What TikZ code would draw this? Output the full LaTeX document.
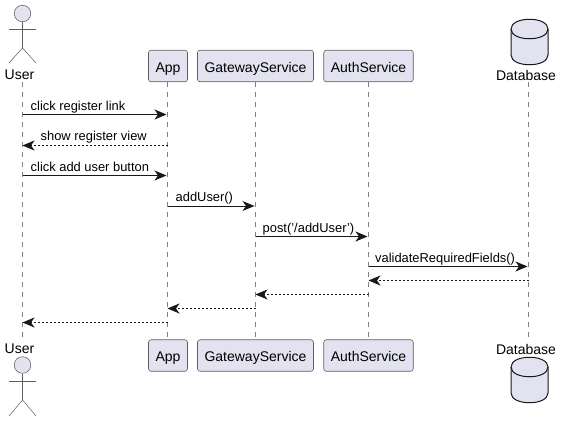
\documentclass[tikz,border=0pt]{standalone}
\usepackage{fontspec}
\setmainfont{Liberation Sans}
\usetikzlibrary{arrows.meta}
\definecolor{seqfill}{HTML}{E2E2F0}
\definecolor{seqline}{HTML}{181818}
\tikzset{
    partbox/.style={draw=seqline!70, line width=.6pt, fill=seqfill, rounded corners=2.5pt,
    	inner xsep=7pt, inner ysep=0pt, minimum height=31.5pt, text height=12pt, text depth=0pt,
    	font=\fontsize{14}{16}\selectfont},
    partname/.style={inner sep=0pt, font=\fontsize{14}{16}\selectfont},
    msgtext/.style={inner sep=0pt, anchor=base west, font=\fontsize{12.9}{15}\selectfont}
}
\tikzset{
    lifeline/.style={draw=seqline!55, line width=.5pt, dash pattern=on 5pt off 5pt},
    stick/.style={draw=seqline!70, line width=.5pt},
    dbline/.style={draw=seqline, line width=1pt, fill=seqfill},
    callmsg/.style={draw=seqline, line width=1pt, shorten >=1pt,
    	-{Stealth[length=12pt, width=10pt, inset=3.5pt]}},
    backmsg/.style={callmsg, shorten >=0pt, line width=.8pt, dash pattern=on 2pt off 2pt}
}

\begin{document}
\begin{tikzpicture}[x=1pt, y=-1pt]
  \useasboundingbox (0,0) rectangle (563,421);

  % participants, top row
  \node (user1) [partname] at (19.5, 75) {User};
  \node (app1) [partbox] at (168, 66) {App};
  \node (gate1) [partbox] at (255.5, 66) {GatewayService};
  \node (auth1) [partbox] at (368.5, 66) {AuthService};
  \node (db1) [partname] at (526, 75) {Database};

  % participants, bottom row
  \node (user2) [partname] at (19.5, 349) {User};
  \node (app2) [partbox] at (168, 355.5) {App};
  \node (gate2) [partbox] at (255.5, 355.5) {GatewayService};
  \node (auth2) [partbox] at (368.5, 355.5) {AuthService};
  \node (db2) [partname] at (526, 349) {Database};

  % lifelines
  \coordinate (lu1) at (22.5, 82); \coordinate (lu2) at (22.5, 339);
  \coordinate (la1) at (167.5, 82); \coordinate (la2) at (167.5, 339);
  \coordinate (lg1) at (255.5, 82); \coordinate (lg2) at (255.5, 339);
  \coordinate (ls1) at (368.5, 82); \coordinate (ls2) at (368.5, 339);
  \coordinate (ld1) at (528.5, 82); \coordinate (ld2) at (528.5, 339);
  \draw [lifeline] (lu1) -- (lu2);
  \draw [lifeline] (la1) -- (la2);
  \draw [lifeline] (lg1) -- (lg2);
  \draw [lifeline] (ls1) -- (ls2);
  \draw [lifeline] (ld1) -- (ld2);

  % actor, top
  \draw [stick, fill=seqfill] (22.5, 13.5) circle (8.3);
  \draw [stick] (22.5, 22) -- (22.5, 48);
  \draw [stick] (9, 29) -- (36, 29);
  \draw [stick] (9, 63) -- (22.5, 48) -- (36, 63);

  % actor, bottom
  \draw [stick, fill=seqfill] (22.5, 365) circle (8.3);
  \draw [stick] (22.5, 373.5) -- (22.5, 400);
  \draw [stick] (9, 381) -- (36, 381);
  \draw [stick] (9, 416) -- (22.5, 400) -- (36, 416);

  % database, top
  \draw [dbline] (511, 29) .. controls (511, 16) and (548, 16) .. (548, 29)
    -- (548, 55) .. controls (548, 68) and (511, 68) .. (511, 55) -- cycle;
  \draw [dbline, fill=none] (511, 29) .. controls (511, 42) and (548, 42) .. (548, 29);

  % database, bottom
  \draw [dbline] (511, 367) .. controls (511, 354) and (548, 354) .. (548, 367)
    -- (548, 393) .. controls (548, 406) and (511, 406) .. (511, 393) -- cycle;
  \draw [dbline, fill=none] (511, 367) .. controls (511, 380) and (548, 380) .. (548, 367);

  % message ends
  \coordinate (u1) at (22.5, 114.5); \coordinate (a1) at (167.5, 114.5);
  \coordinate (a2) at (167.5, 145.5); \coordinate (u2) at (22.5, 145.5);
  \coordinate (u3) at (22.5, 175.5); \coordinate (a3) at (167.5, 175.5);
  \coordinate (a4) at (167.5, 206); \coordinate (g4) at (255.5, 206);
  \coordinate (g5) at (255.5, 236.5); \coordinate (s5) at (368.5, 236.5);
  \coordinate (s6) at (368.5, 266.5); \coordinate (d6) at (528.5, 266.5);
  \coordinate (d7) at (528.5, 280.5); \coordinate (s7) at (368.5, 280.5);
  \coordinate (s8) at (368.5, 294.5); \coordinate (g8) at (255.5, 294.5);
  \coordinate (g9) at (255.5, 308.5); \coordinate (a9) at (167.5, 308.5);
  \coordinate (a10) at (167.5, 322.5); \coordinate (u10) at (22.5, 322.5);

  \draw [callmsg] (u1) -- (a1);
  \draw [backmsg] (a2) -- (u2);
  \draw [callmsg] (u3) -- (a3);
  \draw [callmsg] (a4) -- (g4);
  \draw [callmsg] (g5) -- (s5);
  \draw [callmsg] (s6) -- (d6);
  \draw [backmsg] (d7) -- (s7);
  \draw [backmsg] (s8) -- (g8);
  \draw [backmsg] (g9) -- (a9);
  \draw [backmsg] (a10) -- (u10);

  % message labels
  \node (t1) [msgtext] at (30.5, 110) {click register link};
  \node (t2) [msgtext] at (40.5, 140) {show register view};
  \node (t3) [msgtext] at (30.5, 171) {click add user button};
  \node (t4) [msgtext] at (175.5, 201) {addUser()};
  \node (t5) [msgtext] at (262.5, 232) {post('/addUser')};
  \node (t6) [msgtext] at (375, 262) {validateRequiredFields()};
\end{tikzpicture}
\end{document}
